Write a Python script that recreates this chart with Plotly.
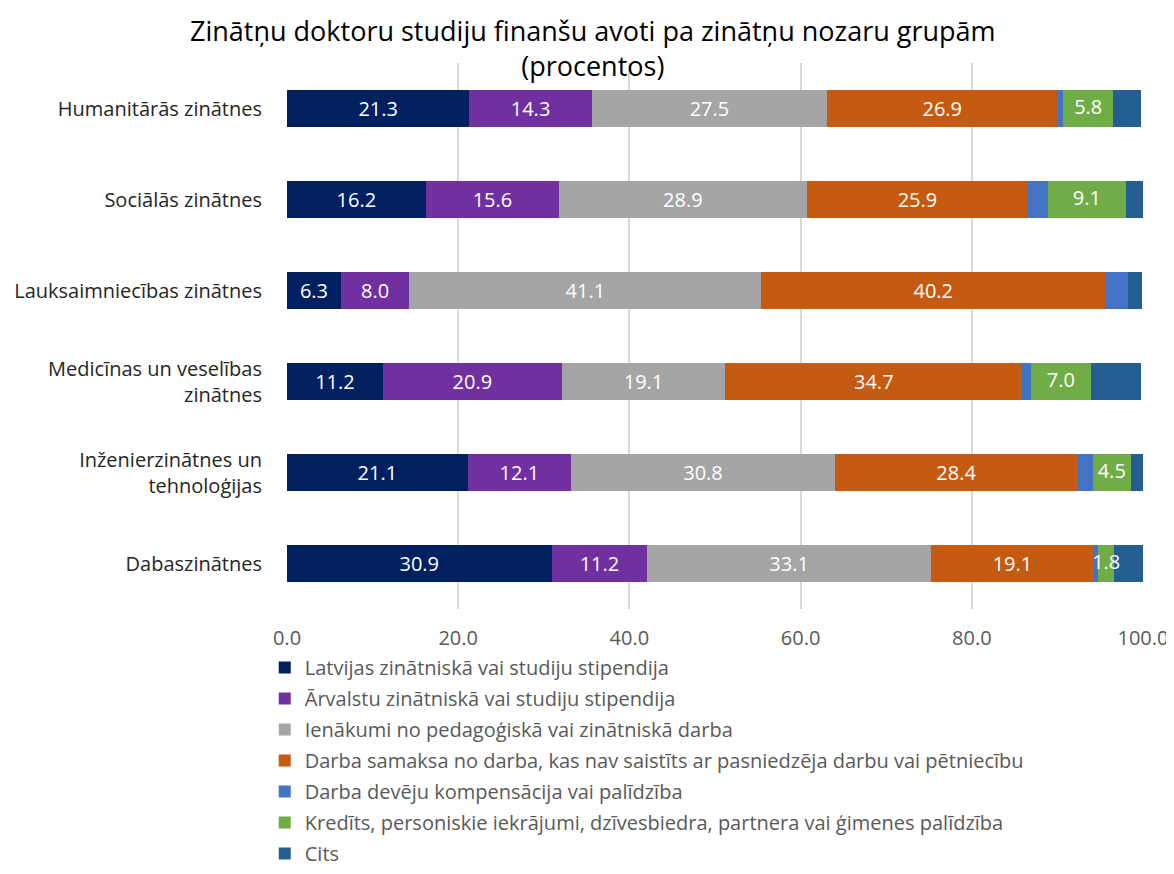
import plotly.graph_objects as go

categories = [
    "Humanitārās zinātnes",
    "Sociālās zinātnes",
    "Lauksaimniecības zinātnes",
    "Medicīnas un veselības<br>zinātnes",
    "Inženierzinātnes un<br>tehnoloģijas",
    "Dabaszinātnes",
]

series_names = [
    "Latvijas zinātniskā vai studiju stipendija",
    "Ārvalstu zinātniskā vai studiju stipendija",
    "Ienākumi no pedagoģiskā vai zinātniskā darba",
    "Darba samaksa no darba, kas nav saistīts ar pasniedzēja darbu vai pētniecību",
    "Darba devēju kompensācija vai palīdzība",
    "Kredīts, personiskie iekrājumi, dzīvesbiedra, partnera vai ģimenes palīdzība",
    "Cits",
]

latvijas = [21.3, 16.2, 6.3, 11.2, 21.1, 30.9]
arvalstu = [14.3, 15.6, 8.0, 20.9, 12.1, 11.2]
ienakumi = [27.5, 28.9, 41.1, 19.1, 30.8, 33.1]
darba_samaksa = [26.9, 25.9, 40.2, 34.7, 28.4, 19.1]
darba_deveju = [0.7, 2.3, 2.6, 1.0, 1.7, 0.5]
kredits = [5.8, 9.1, 0.0, 7.0, 4.5, 1.8]
cits = [3.3, 2.0, 1.7, 5.9, 1.4, 3.4]

values = [latvijas, arvalstu, ienakumi, darba_samaksa, darba_deveju, kredits, cits]
colors = ["#002060", "#7030A0", "#A5A5A5", "#C55A11", "#4472C4", "#70AD47", "#255E91"]
# label mode: "bar" = label inside bar, "overlay" = label drawn on top of all bars, None = no label
label_mode = ["bar", "bar", "bar", "bar", None, "overlay", None]

xticks = [0, 20, 40, 60, 80, 100]

FONT = "'Open Sans', sans-serif"

fig = go.Figure()
for i, (name, vals, col, mode) in enumerate(zip(series_names, values, colors, label_mode)):
    texts = [f"{v:.1f}" if (mode == "bar" and v > 0) else "" for v in vals]
    fig.add_trace(go.Bar(
        y=categories, x=vals, name=name, orientation="h",
        marker=dict(color=col, line=dict(width=0)),
        text=texts, textposition="inside", insidetextanchor="middle",
        textangle=0, constraintext="none", cliponaxis=False,
        textfont=dict(color="white", size=20, family=FONT),
        legendgroup=f"g{i}",
        hoverinfo="x+name",
    ))

# overlay labels (drawn above every bar) at the middle of their stacked segment
for i, (vals, mode) in enumerate(zip(values, label_mode)):
    if mode != "overlay":
        continue
    base = [sum(values[k][j] for k in range(i)) for j in range(len(categories))]
    mids, cats, texts = [], [], []
    for j, v in enumerate(vals):
        if v > 0:
            mids.append(base[j] + v / 2)
            cats.append(categories[j])
            texts.append(f"{v:.1f}")
    fig.add_trace(go.Scatter(
        x=mids, y=cats, mode="text", text=texts, textposition="middle center",
        textfont=dict(color="white", size=20, family=FONT),
        showlegend=False, hoverinfo="skip", cliponaxis=False,
    ))

fig.update_layout(
    width=1166, height=866,
    barmode="stack", bargap=0.59,
    paper_bgcolor="white", plot_bgcolor="white",
    margin=dict(l=279, r=31, t=55, b=265),
    font=dict(family=FONT, color="#404040"),
    xaxis=dict(
        range=[0, 100], tickvals=xticks, tickformat=".1f",
        showgrid=True, gridcolor="#D9D9D9", gridwidth=1.5,
        zeroline=False, showline=False, automargin=False,
        tickfont=dict(size=20, color="#595959", family=FONT),
        ticks="", ticklen=0, ticklabelstandoff=15,
    ),
    yaxis=dict(
        autorange="reversed", showgrid=False, showline=False, zeroline=False,
        ticks="", ticklabelstandoff=24, automargin=False,
        tickfont=dict(size=20, color="#262626", family=FONT),
    ),
    legend=dict(
        orientation="v", traceorder="grouped", tracegroupgap=2,
        xref="paper", yref="container",
        x=-0.026, xanchor="left", y=0.261, yanchor="top",
        font=dict(size=20, color="#595959", family=FONT),
        itemwidth=30, bgcolor="rgba(0,0,0,0)",
    ),
    showlegend=True,
    annotations=[dict(
        text="Zinātņu doktoru studiju finanšu avoti pa zinātņu nozaru grupām<br>(procentos)",
        xref="paper", yref="paper", x=0.3575, y=1.0275,
        xanchor="center", yanchor="middle", showarrow=False,
        font=dict(family=FONT, size=27, color="black"),
    )],
)

fig.write_html("out.html")
